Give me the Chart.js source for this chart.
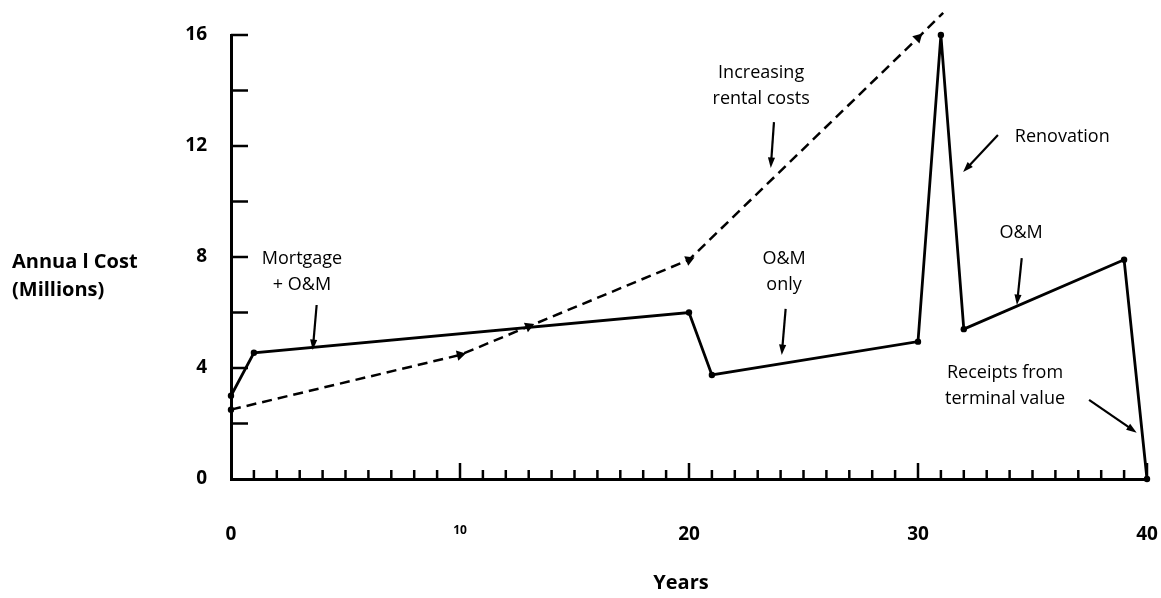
<!DOCTYPE html>
<html>
<head>
<meta charset="utf-8">
<script src="https://cdn.jsdelivr.net/npm/chart.js@4/dist/chart.umd.min.js"></script>
<style>
  body { margin: 0; background: #fff; }
  #chartCanvas { display: block; }
</style>
</head>
<body>
<canvas id="chartCanvas" width="1161" height="598"></canvas>
<script>
// values
const ownYears = [0, 1, 20, 21, 30, 31, 32, 39, 40];
const ownCost = [3.0, 4.55, 6.0, 3.75, 4.95, 16.0, 5.4, 7.9, 0];
const rentYears = [0, 10, 13, 20, 30, 31.1];
const rentCost = [2.5, 4.47, 5.5, 7.9, 15.9, 16.8];
const xTickLabels = [0, 10, 20, 30, 40];
const yTickLabels = [0, 4, 8, 12, 16];

// callout text + arrows, in data units (year, millions)
const notes = [
    { lines: ['Mortgage', '+ O&M'], x: 3.1, y: 7.93, from: [3.74, 6.27], to: [3.57, 4.65] },
    { lines: ['Increasing', 'rental costs'], x: 23.15, y: 14.63, from: [23.71, 12.86], to: [23.57, 11.21] },
    { lines: ['Renovation'], x: 36.3, y: 12.32, from: [33.49, 12.40], to: [31.97, 11.06] },
    { lines: ['O&M'], x: 34.5, y: 8.86, from: [34.53, 7.96], to: [34.32, 6.27] },
    { lines: ['O&M', 'only'], x: 24.15, y: 7.93, from: [24.22, 6.13], to: [24.05, 4.47] },
    { lines: ['Receipts from', 'terminal value'], x: 33.8, y: 3.82, from: [37.47, 2.85], to: [39.55, 1.67] }
];

const FONT = '"Open Sans", "DejaVu Sans", sans-serif';

document.addEventListener('DOMContentLoaded', () => {
    const ctx = document.getElementById('chartCanvas').getContext('2d');

    function arrow(c, x1, y1, x2, y2) {
        const a = Math.atan2(y2 - y1, x2 - x1);
        const head = 11;
        c.beginPath();
        c.moveTo(x1, y1);
        c.lineTo(x2 - Math.cos(a) * head * 0.8, y2 - Math.sin(a) * head * 0.8);
        c.stroke();
        c.beginPath();
        c.moveTo(x2, y2);
        c.lineTo(x2 - head * Math.cos(a - 0.33), y2 - head * Math.sin(a - 0.33));
        c.lineTo(x2 - head * Math.cos(a + 0.33), y2 - head * Math.sin(a + 0.33));
        c.closePath();
        c.fill();
    }

    const decorPlugin = {
        id: 'decor',
        afterDraw(chart) {
            const c = chart.ctx;
            const xs = chart.scales.x, ys = chart.scales.y;
            const area = chart.chartArea;
            c.save();
            c.strokeStyle = '#000';
            c.fillStyle = '#000';
            c.lineWidth = 2.5;

            // inward tick marks
            xs.ticks.forEach(t => {
                if (t.value === 0) return;
                const px = xs.getPixelForValue(t.value);
                const len = t.value % 10 === 0 ? 16 : 9;
                c.beginPath();
                c.moveTo(px, area.bottom);
                c.lineTo(px, area.bottom - len);
                c.stroke();
            });
            ys.ticks.forEach(t => {
                if (t.value === 0) return;
                const py = ys.getPixelForValue(t.value);
                c.beginPath();
                c.moveTo(area.left, py);
                c.lineTo(area.left + 17, py);
                c.stroke();
            });

            // callouts
            c.font = '18px ' + FONT;
            c.textAlign = 'center';
            c.textBaseline = 'middle';
            notes.forEach(n => {
                const px = xs.getPixelForValue(n.x);
                const py = ys.getPixelForValue(n.y);
                n.lines.forEach((line, i) => c.fillText(line, px, py + i * 26));
                c.lineWidth = 2.2;
                arrow(c, xs.getPixelForValue(n.from[0]), ys.getPixelForValue(n.from[1]),
                         xs.getPixelForValue(n.to[0]), ys.getPixelForValue(n.to[1]));
            });

            // axis titles
            c.font = 'bold 20px ' + FONT;
            c.textAlign = 'left';
            c.fillText('Annua l Cost', 12, 262);
            c.fillText('(Millions)', 12, 290);
            c.textAlign = 'center';
            c.fillText('Years', (area.left + area.right) / 2 - 8, 583);
            c.restore();
        }
    };

    // point the rental arrowheads along the line
    function headRotation(context) {
        const i = context.dataIndex;
        if (i === 0) return 0;
        const xs = context.chart.scales.x, ys = context.chart.scales.y;
        const d = context.dataset.data;
        const dx = xs.getPixelForValue(d[i].x) - xs.getPixelForValue(d[i - 1].x);
        const dy = ys.getPixelForValue(d[i].y) - ys.getPixelForValue(d[i - 1].y);
        return Math.atan2(dy, dx) * 180 / Math.PI + 90;
    }

    new Chart(ctx, {
        type: 'line',
        data: {
            datasets: [
                {
                    label: 'Own',
                    data: ownYears.map((y, i) => ({ x: y, y: ownCost[i] })),
                    borderColor: '#000',
                    backgroundColor: '#000',
                    borderWidth: 2.8,
                    pointRadius: 3.2,
                    pointBorderWidth: 0,
                    tension: 0,
                    clip: false
                },
                {
                    label: 'Rent',
                    data: rentYears.map((y, i) => ({ x: y, y: rentCost[i] })),
                    borderColor: '#000',
                    backgroundColor: '#000',
                    borderWidth: 2.5,
                    borderDash: [10, 6],
                    pointStyle: c => c.dataIndex === 0 ? 'circle' : 'triangle',
                    pointRadius: c => c.dataIndex === 0 ? 3.2 : (c.dataIndex === rentYears.length - 1 ? 7.5 : 6),
                    pointRotation: headRotation,
                    pointBorderWidth: 0,
                    tension: 0,
                    clip: false
                }
            ]
        },
        options: {
            responsive: false,
            animation: false,
            layout: { padding: { top: 35, right: 14, left: 0, bottom: 0 } },
            plugins: {
                legend: { display: false },
                tooltip: { enabled: false }
            },
            scales: {
                x: {
                    type: 'linear',
                    min: 0,
                    max: 40,
                    afterFit: s => { s.height = 119; s.paddingLeft = 0; s.paddingRight = 0; },
                    grid: { drawOnChartArea: false, drawTicks: false },
                    border: { color: '#000', width: 3 },
                    ticks: {
                        stepSize: 1,
                        autoSkip: false,
                        maxRotation: 0,
                        padding: 44,
                        color: '#000',
                        font: c => (c.tick && c.tick.value === 10)
                            ? { family: FONT, size: 12, weight: 'bold' }
                            : { family: FONT, size: 19, weight: 'bold' },
                        callback: v => xTickLabels.includes(v) ? String(v) : ''
                    }
                },
                y: {
                    min: 0,
                    max: 16,
                    afterFit: s => { s.width = 231; s.paddingTop = 0; s.paddingBottom = 0; },
                    grid: { drawOnChartArea: false, drawTicks: false },
                    border: { color: '#000', width: 3 },
                    ticks: {
                        stepSize: 2,
                        padding: 24,
                        color: '#000',
                        font: { family: FONT, size: 19, weight: 'bold' },
                        callback: v => yTickLabels.includes(v) ? String(v) : ''
                    }
                }
            }
        },
        plugins: [decorPlugin]
    });
});
</script>
</body>
</html>
